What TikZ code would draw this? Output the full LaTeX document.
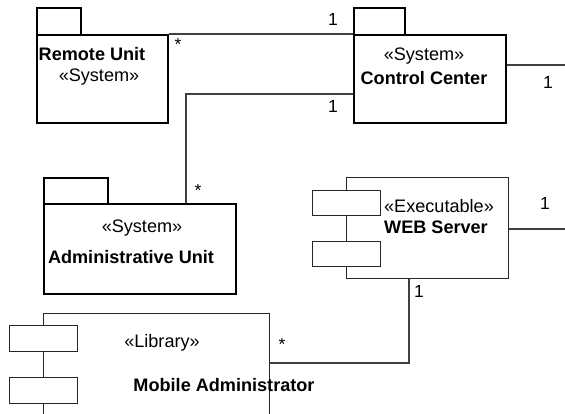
\documentclass[tikz,border=0pt]{standalone}
\usepackage{fontspec}
\setmainfont{Liberation Sans}
\usetikzlibrary{calc}
\begin{document}
\begin{tikzpicture}[x=1pt,y=-1pt,
  pkg/.style={draw=black, line width=1.8pt, fill=white, inner sep=0pt, anchor=north west},
  comp/.style={draw=black!85, line width=0.9pt, fill=white, inner sep=0pt, anchor=north west},
  port/.style={draw=black!85, line width=0.9pt, fill=white, inner sep=0pt, anchor=north west,
               minimum width=68, minimum height=25},
  link/.style={draw=black!75, line width=1.2pt},
  txt/.style={inner sep=0pt, font=\fontsize{18.1}{20}\selectfont},
  btxt/.style={inner sep=0pt, font=\fontsize{18.1}{20}\selectfont\bfseries},
  mult/.style={inner sep=0pt, font=\fontsize{17.5}{19}\selectfont}]
\useasboundingbox (0,0) rectangle (565,414);
\clip (0,0) rectangle (565,414);

% Remote Unit package
\node[pkg, minimum width=44, minimum height=27] (ru-tab) at (36,7) {};
\node[pkg, minimum width=131, minimum height=88] (ru) at (36,34) {};
\node[btxt] (ru-name) at (92,54) {Remote Unit};
\node[txt] (ru-st) at (99,77) {«System»};

% Control Center package
\node[pkg, minimum width=51, minimum height=27] (cc-tab) at (353,7) {};
\node[pkg, minimum width=152, minimum height=88] (cc) at (353,34) {};
\node[txt] (cc-st) at (424,56) {«System»};
\node[btxt] (cc-name) at (424,78) {Control Center};

% Administrative Unit package
\node[pkg, minimum width=64, minimum height=26] (au-tab) at (43,177) {};
\node[pkg, minimum width=192, minimum height=90] (au) at (43,203) {};
\node[txt] (au-st) at (142,228) {«System»};
\node[btxt] (au-name) at (131,257) {Administrative Unit};

% WEB Server component
\node[comp, minimum width=162, minimum height=101] (web) at (346,177) {};
\node[port] (web-p1) at (312,190) {};
\node[port] (web-p2) at (312,241) {};
\node[txt] (web-st) at (439,206) {«Executable»};
\node[btxt] (web-name) at (436,227) {WEB Server};

% Mobile Administrator component
\node[comp, minimum width=226, minimum height=130] (ma) at (43,313) {};
\node[port, minimum height=26] (ma-p1) at (9,325) {};
\node[port, minimum height=26] (ma-p2) at (9,377) {};
\node[txt] (ma-st) at (162,343) {«Library»};
\node[btxt] (ma-name) at (224,385) {Mobile Administrator};

% Associations
\coordinate (cc-out) at (570,65);
\coordinate (web-out) at (570,229);
\draw[link] (ru.north east) -- (cc.north west);
\draw[link] ($(cc.north west)+(0,60)$) -| ($(au.north west)+(143,0)$);
\draw[link] ($(cc.north east)+(0,31)$) -- (cc-out);
\draw[link] ($(web.north east)+(0,52)$) -- (web-out);
\draw[link] ($(web.south west)+(63,0)$) |- ($(ma.north east)+(0,50)$);

% Multiplicities
\node[mult] (m1) at (178,44) {*};
\node[mult] (m2) at (333,19) {1};
\node[mult] (m3) at (333,106) {1};
\node[mult] (m4) at (198,190) {*};
\node[mult] (m5) at (548,82) {1};
\node[mult] (m6) at (545,203) {1};
\node[mult] (m7) at (419,291) {1};
\node[mult] (m8) at (282,344) {*};
\end{tikzpicture}
\end{document}
